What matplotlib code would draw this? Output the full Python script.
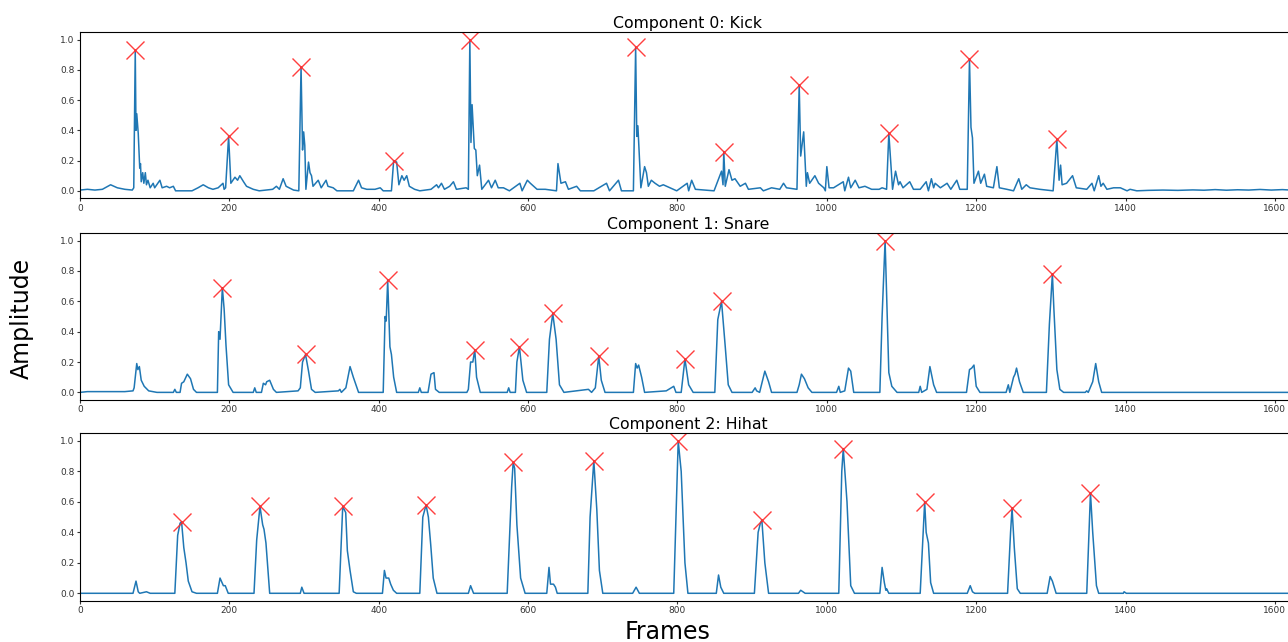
import numpy as np
import matplotlib.pyplot as plt

# activation curves (frame, amplitude)
kick_frames = [0, 10, 20, 30, 41, 50, 60, 70, 72, 74, 75, 76, 78, 80, 81, 82, 84, 85.5, 87.5, 89, 91, 94, 98, 100,
               107, 110, 116, 120, 125, 128, 150, 158, 165, 172, 178, 185, 191.5, 193, 195, 199, 202, 207.5, 211,
               214, 219, 223, 232, 240, 258, 263, 267, 272, 276, 286, 293, 296, 298, 299.5, 301, 302.5, 306, 308,
               310, 312, 319, 323, 329.5, 332, 339, 344, 366, 373, 377, 384, 395, 402, 406, 417, 420, 424, 427,
               431, 434, 437.5, 441, 448, 455, 470, 477.5, 480, 484, 488, 495, 500, 504, 517, 520, 522, 523.5,
               525, 528, 530, 532, 535, 538, 547, 551, 556, 560, 567, 575, 589, 592, 599, 603, 612, 623, 638, 640,
               644, 650, 654, 665, 670, 688, 705, 709, 721, 725, 741, 744, 745.5, 747, 751, 756, 758.5, 761, 765,
               770, 776, 781, 790, 799, 813, 815, 819, 824, 849, 859, 861, 862, 864, 869, 873, 877, 884, 891, 895,
               911, 915, 926, 937, 942, 946, 960, 963, 965, 969, 972.5, 974, 977, 984, 989, 996, 998, 1000, 1003,
               1009, 1022, 1024, 1029, 1032, 1038, 1043, 1051, 1060, 1070, 1074, 1080, 1083, 1088, 1092, 1096,
               1098, 1102, 1111, 1116, 1125, 1133, 1136, 1140, 1143, 1145, 1152, 1161, 1166, 1174, 1178, 1188,
               1191, 1193, 1195, 1197, 1203, 1206, 1211, 1214, 1223, 1227.7, 1231, 1241, 1250, 1257, 1261, 1267,
               1272, 1285, 1303, 1308, 1311, 1313, 1315, 1321, 1329, 1334, 1348, 1355, 1358, 1364, 1367, 1370,
               1375, 1384, 1393, 1402, 1406, 1415, 1430, 1450, 1470, 1490, 1505, 1520, 1535, 1550, 1565, 1580,
               1595, 1610, 1625, 1640]
kick_values = [0.005, 0.01, 0.005, 0.01, 0.04, 0.02, 0.01, 0.005, 0.02, 0.93, 0.40, 0.51, 0.38, 0.15, 0.18, 0.06,
               0.12, 0.05, 0.12, 0.04, 0.07, 0.02, 0.05, 0.02, 0.07, 0.02, 0.03, 0.02, 0.03, 0.0, 0.0, 0.02, 0.04,
               0.02, 0.01, 0.02, 0.05, 0.01, 0.02, 0.36, 0.05, 0.09, 0.07, 0.10, 0.06, 0.03, 0.01, 0.0, 0.01, 0.03,
               0.01, 0.08, 0.03, 0.005, 0.0, 0.82, 0.27, 0.39, 0.30, 0.01, 0.19, 0.12, 0.10, 0.03, 0.07, 0.02, 0.07,
               0.03, 0.02, 0.0, 0.0, 0.07, 0.02, 0.01, 0.01, 0.02, 0.0, 0.0, 0.20, 0.19, 0.04, 0.10, 0.07, 0.10,
               0.03, 0.01, 0.0, 0.01, 0.04, 0.02, 0.05, 0.01, 0.03, 0.06, 0.01, 0.02, 0.01, 1.0, 0.32, 0.57, 0.28,
               0.27, 0.10, 0.17, 0.01, 0.07, 0.02, 0.07, 0.02, 0.02, 0.0, 0.05, 0.0, 0.07, 0.05, 0.01, 0.01, 0.0,
               0.18, 0.05, 0.06, 0.01, 0.03, 0.0, 0.0, 0.05, 0.0, 0.07, 0.0, 0.0, 0.95, 0.36, 0.43, 0.02, 0.16,
               0.12, 0.03, 0.07, 0.05, 0.03, 0.04, 0.02, 0.0, 0.05, 0.0, 0.07, 0.01, 0.0, 0.13, 0.04, 0.26, 0.03,
               0.14, 0.07, 0.08, 0.03, 0.05, 0.01, 0.02, 0.0, 0.02, 0.01, 0.05, 0.02, 0.01, 0.70, 0.23, 0.39, 0.03,
               0.12, 0.05, 0.10, 0.05, 0.02, 0.0, 0.16, 0.02, 0.02, 0.06, 0.0, 0.09, 0.02, 0.07, 0.02, 0.03, 0.01,
               0.01, 0.02, 0.01, 0.38, 0.01, 0.13, 0.04, 0.06, 0.02, 0.06, 0.01, 0.01, 0.06, 0.0, 0.08, 0.02, 0.05,
               0.02, 0.05, 0.01, 0.07, 0.01, 0.01, 0.87, 0.42, 0.35, 0.05, 0.13, 0.05, 0.11, 0.03, 0.02, 0.16, 0.02,
               0.01, 0.0, 0.08, 0.01, 0.04, 0.02, 0.01, 0.0, 0.34, 0.07, 0.17, 0.04, 0.05, 0.10, 0.02, 0.01, 0.05,
               0.0, 0.10, 0.03, 0.05, 0.01, 0.02, 0.02, 0.0, 0.01, 0.0, 0.003, 0.005, 0.003, 0.006, 0.004, 0.008,
               0.004, 0.007, 0.005, 0.009, 0.005, 0.008, 0.004, 0.006]

snare_frames = [0, 10, 60, 71, 72.5, 76, 77.5, 79.5, 82, 86, 92, 103, 125, 127, 129, 134, 136, 139, 143.7, 148,
                152, 156, 184, 185.7, 187.5, 190.6, 193, 195.5, 199, 205, 232, 234, 236, 243, 245.5, 248.5, 250,
                254, 259, 263, 292, 295, 298, 302, 306, 310, 315, 346, 348, 350, 356, 361.6, 366, 373, 406, 408.5,
                410, 412, 415, 417, 420, 424, 453, 455, 457, 466, 470, 474, 476, 481, 518, 520, 523, 526, 528.6,
                531, 536, 572, 574, 576, 583, 585, 588.4, 593, 598, 625, 628.6, 633, 637.5, 642, 648, 680.8, 685,
                690, 694.6, 698, 703, 741, 744, 746, 748, 752, 756, 785, 795, 798, 805, 810, 815, 821, 850, 854,
                859, 864, 868, 873, 900, 904, 906, 910, 917, 922, 926, 960, 963, 966, 970, 975, 980, 1013, 1016,
                1018, 1024, 1029, 1032, 1036, 1071, 1074, 1078, 1083, 1087, 1094, 1123, 1125, 1127, 1134, 1138,
                1143, 1147, 1187, 1191, 1194, 1197, 1200, 1205, 1240, 1243, 1245, 1250, 1252, 1254, 1258, 1263,
                1294, 1298, 1302, 1304, 1308, 1312, 1317, 1346, 1348, 1350, 1356, 1360, 1364, 1368, 1640]
snare_values = [0.0, 0.005, 0.005, 0.01, 0.03, 0.19, 0.15, 0.17, 0.08, 0.04, 0.01, 0.0, 0.0, 0.02, 0.0, 0.0, 0.06,
                0.07, 0.12, 0.09, 0.02, 0.0, 0.0, 0.40, 0.35, 0.69, 0.55, 0.31, 0.05, 0.0, 0.0, 0.03, 0.0, 0.0,
                0.06, 0.05, 0.07, 0.08, 0.02, 0.0, 0.01, 0.03, 0.20, 0.25, 0.14, 0.02, 0.0, 0.01, 0.02, 0.0, 0.03,
                0.17, 0.10, 0.0, 0.0, 0.50, 0.47, 0.74, 0.30, 0.25, 0.10, 0.0, 0.0, 0.03, 0.0, 0.0, 0.12, 0.13,
                0.02, 0.0, 0.0, 0.02, 0.20, 0.20, 0.28, 0.10, 0.0, 0.0, 0.03, 0.0, 0.0, 0.20, 0.30, 0.08, 0.0, 0.0,
                0.35, 0.52, 0.35, 0.05, 0.0, 0.02, 0.0, 0.03, 0.24, 0.08, 0.0, 0.0, 0.19, 0.16, 0.18, 0.10, 0.0,
                0.01, 0.04, 0.0, 0.0, 0.22, 0.05, 0.0, 0.0, 0.48, 0.60, 0.30, 0.05, 0.0, 0.0, 0.03, 0.01, 0.0, 0.14,
                0.07, 0.0, 0.0, 0.05, 0.12, 0.09, 0.03, 0.0, 0.0, 0.04, 0.0, 0.01, 0.16, 0.14, 0.0, 0.0, 0.50, 1.0,
                0.13, 0.04, 0.0, 0.0, 0.04, 0.0, 0.02, 0.17, 0.05, 0.0, 0.0, 0.15, 0.16, 0.18, 0.04, 0.0, 0.0, 0.05,
                0.0, 0.10, 0.12, 0.16, 0.07, 0.0, 0.0, 0.45, 0.78, 0.55, 0.15, 0.02, 0.0, 0.0, 0.01, 0.0, 0.07,
                0.19, 0.07, 0.0, 0.0]

hihat_frames = [0, 71, 75, 78, 80, 89, 94, 127, 130.8, 134, 136, 139, 142, 145, 150, 156, 184, 187.5, 192, 194.5,
                198.5, 233, 236.6, 241, 244.6, 246.4, 249, 254, 295, 297, 300, 347, 351.8, 355.8, 358, 361.6, 366,
                370, 405, 407.6, 409.8, 413.4, 416, 419.6, 424, 455, 459, 463.4, 466.5, 469.6, 473, 478, 520, 523,
                527, 572, 578, 580, 582, 585, 590, 596, 625, 628, 630, 634, 636.6, 639, 680, 683, 688, 692, 695.5,
                700, 740, 744.6, 749, 795, 801, 805, 810, 814, 852, 855, 858, 862, 903, 908, 911, 913, 917, 922,
                962, 965, 971, 1016, 1020, 1022, 1027, 1032, 1037, 1071, 1074, 1077, 1079, 1080, 1083, 1125, 1128,
                1131, 1133, 1136, 1139, 1143, 1188, 1192, 1195, 1198, 1242, 1246, 1248, 1251, 1255, 1259, 1295,
                1299, 1302, 1307, 1348, 1351, 1353, 1356, 1361, 1364, 1397, 1398, 1401, 1640]
hihat_values = [0.0, 0.0, 0.08, 0.01, 0.0, 0.01, 0.0, 0.0, 0.38, 0.46, 0.47, 0.30, 0.20, 0.08, 0.01, 0.0, 0.0, 0.10,
                0.05, 0.05, 0.0, 0.0, 0.35, 0.57, 0.45, 0.42, 0.33, 0.0, 0.0, 0.04, 0.0, 0.0, 0.57, 0.53, 0.28,
                0.15, 0.01, 0.0, 0.0, 0.15, 0.10, 0.10, 0.06, 0.02, 0.0, 0.0, 0.50, 0.58, 0.50, 0.32, 0.10, 0.0, 0.0,
                0.05, 0.0, 0.0, 0.70, 0.86, 0.82, 0.45, 0.10, 0.0, 0.0, 0.17, 0.06, 0.06, 0.04, 0.0, 0.0, 0.50, 0.87,
                0.55, 0.15, 0.0, 0.0, 0.04, 0.0, 0.0, 1.0, 0.80, 0.20, 0.0, 0.0, 0.12, 0.04, 0.0, 0.0, 0.40, 0.46,
                0.48, 0.20, 0.0, 0.0, 0.02, 0.0, 0.0, 0.80, 0.95, 0.60, 0.05, 0.0, 0.0, 0.17, 0.07, 0.02, 0.03, 0.0,
                0.0, 0.30, 0.60, 0.40, 0.33, 0.07, 0.0, 0.0, 0.05, 0.01, 0.0, 0.0, 0.40, 0.56, 0.30, 0.03, 0.0, 0.0,
                0.11, 0.08, 0.0, 0.0, 0.40, 0.66, 0.40, 0.05, 0.0, 0.0, 0.01, 0.0, 0.0]

# detected peaks (red crosses)
kick_peak_frames = [74, 199, 296, 420, 522, 744, 862, 963, 1083, 1191, 1308]
kick_peak_values = [0.93, 0.36, 0.82, 0.20, 1.0, 0.95, 0.26, 0.70, 0.38, 0.87, 0.34]
snare_peak_frames = [190.6, 302, 412, 528.6, 588.4, 633, 694.6, 810, 859, 1078, 1302]
snare_peak_values = [0.69, 0.25, 0.74, 0.28, 0.30, 0.52, 0.24, 0.22, 0.60, 1.0, 0.78]
hihat_peak_frames = [136, 241, 351.8, 463.4, 580, 688, 801, 913, 1022, 1131, 1248, 1353]
hihat_peak_values = [0.47, 0.57, 0.57, 0.58, 0.86, 0.87, 1.0, 0.48, 0.95, 0.60, 0.56, 0.66]

titles = ['Component 0: Kick', 'Component 1: Snare', 'Component 2: Hihat']
curves = [(kick_frames, kick_values), (snare_frames, snare_values), (hihat_frames, hihat_values)]
peaks = [(kick_peak_frames, kick_peak_values), (snare_peak_frames, snare_peak_values),
         (hihat_peak_frames, hihat_peak_values)]

fig = plt.figure(figsize=(12.88, 6.42), dpi=100)

# axes boxes (left, bottom, width, height), right edge runs off the figure
boxes = [(0.0621, 0.691, 0.944, 0.259), (0.0621, 0.377, 0.944, 0.260), (0.0621, 0.064, 0.944, 0.261)]

for i in range(3):
    ax = fig.add_axes(boxes[i])
    ax.plot(curves[i][0], curves[i][1], color='#1f77b4', lw=1.1)
    ax.plot(peaks[i][0], peaks[i][1], 'x', color='#ff2a2a', markersize=12.5, markeredgewidth=1.0, alpha=0.9)
    ax.set_xlim(0, 1628)
    ax.set_ylim(-0.05, 1.05)
    ax.set_xticks([0, 200, 400, 600, 800, 1000, 1200, 1400, 1600])
    ax.set_yticks([0.0, 0.2, 0.4, 0.6, 0.8, 1.0])
    ax.tick_params(labelsize=6.5, colors='#333333', length=2.2, pad=1.6)
    ax.set_title(titles[i], fontsize=11.3, pad=3)

fig.text(22 / 1288, 1 - 318 / 642, 'Amplitude', rotation=90, fontsize=17, ha='center', va='center')
fig.text(668 / 1288, 1 - 632 / 642, 'Frames', fontsize=17, ha='center', va='center')

plt.savefig('out.png', dpi=100)
